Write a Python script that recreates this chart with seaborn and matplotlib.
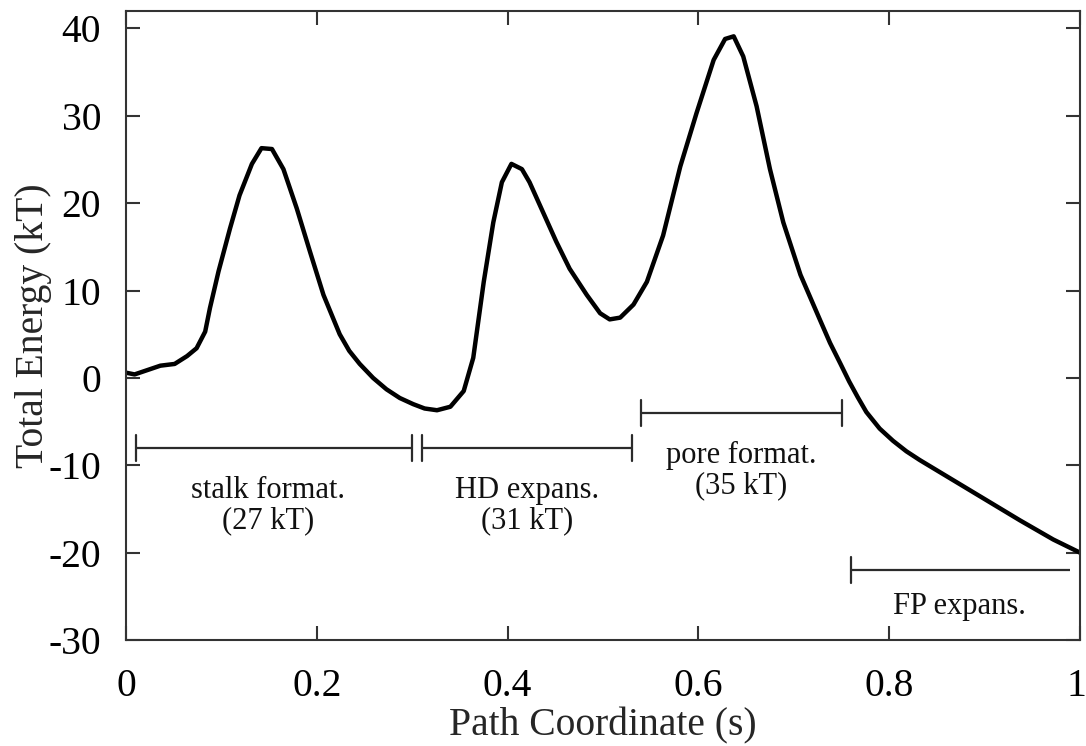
import matplotlib
matplotlib.use("Agg")
import matplotlib.pyplot as plt
import matplotlib.transforms as mtransforms
import seaborn as sns
import numpy as np
import pandas as pd

# ---- data ----
path_s = [0.0, 0.009, 0.036, 0.051, 0.064, 0.074, 0.083, 0.088, 0.097, 0.109,
          0.119, 0.132, 0.142, 0.153, 0.165, 0.179, 0.193, 0.207, 0.224, 0.234,
          0.245, 0.259, 0.273, 0.287, 0.301, 0.313, 0.326, 0.340, 0.354, 0.364,
          0.375, 0.385, 0.394, 0.404, 0.415, 0.423, 0.437, 0.451, 0.465, 0.483,
          0.497, 0.507, 0.518, 0.532, 0.546, 0.563, 0.581, 0.598, 0.616, 0.628,
          0.637, 0.647, 0.661, 0.675, 0.689, 0.707, 0.728, 0.738, 0.749, 0.758,
          0.767, 0.776, 0.790, 0.804, 0.818, 0.832, 0.867, 0.902, 0.937, 0.972,
          1.0]
energy_kT = [0.6, 0.4, 1.4, 1.6, 2.5, 3.4, 5.3, 8.0, 12.2, 17.1,
             20.9, 24.5, 26.3, 26.2, 23.9, 19.4, 14.4, 9.5, 5.0, 3.1,
             1.6, 0.0, -1.3, -2.3, -3.0, -3.5, -3.7, -3.3, -1.5, 2.3,
             11.0, 17.8, 22.4, 24.5, 23.9, 22.4, 19.0, 15.6, 12.5, 9.5,
             7.4, 6.7, 6.9, 8.4, 11.0, 16.3, 24.2, 30.3, 36.4, 38.8,
             39.1, 36.8, 31.1, 23.9, 17.8, 11.8, 6.5, 4.0, 1.6, -0.4,
             -2.2, -3.9, -5.8, -7.2, -8.4, -9.4, -11.7, -14.0, -16.3, -18.5,
             -20.0]

stage_labels = ["stalk format.\n(27 kT)", "HD expans.\n(31 kT)",
                "pore format.\n(35 kT)", "FP expans."]
stage_start = [0.01, 0.31, 0.54, 0.76]
stage_end = [0.30, 0.53, 0.75, 0.99]
stage_bar_y = [-8, -8, -4, -22]
stage_right_cap = [True, True, True, False]
label_x = [0.149, 0.42, 0.645, 0.874]
label_y = [-14.6, -14.6, -10.6, -26.2]

x_ticks = [0, 0.2, 0.4, 0.6, 0.8, 1]
x_tick_labels = ["0", "0.2", "0.4", "0.6", "0.8", "1"]
y_ticks = [-30, -20, -10, 0, 10, 20, 30, 40]
y_tick_labels = ["-30", "-20", "-10", "0", "10", "20", "30", "40"]

# ---- style ----
sns.set_theme(style="ticks")
plt.rcParams["font.family"] = ["Liberation Serif", "DejaVu Serif"]
plt.rcParams["axes.unicode_minus"] = False

fig = plt.figure(figsize=(10.86, 7.46), dpi=100)
ax = fig.add_axes([126 / 1086, 106 / 746, 954 / 1086, 629 / 746])

df = pd.DataFrame({"s": path_s, "E": energy_kT})
sns.lineplot(data=df, x="s", y="E", ax=ax, color="black", linewidth=3.2,
             estimator=None, sort=False)

bar_color = "#2b2b2b"
cap = 1.5
for xs, xe, yb, rc in zip(stage_start, stage_end, stage_bar_y, stage_right_cap):
    ax.plot([xs, xe], [yb, yb], color=bar_color, lw=1.6, solid_capstyle="butt")
    ax.plot([xs, xs], [yb - cap, yb + cap], color=bar_color, lw=1.6)
    if rc:
        ax.plot([xe, xe], [yb - cap, yb + cap], color=bar_color, lw=1.6)

for lab, lx, ly in zip(stage_labels, label_x, label_y):
    ax.text(lx, ly, lab, ha="center", va="center", fontsize=22,
            multialignment="center", linespacing=1.05, color="#111111")

ax.set_xlim(0, 1)
ax.set_ylim(-30, 42)
ax.set_xticks(x_ticks)
ax.set_xticklabels(x_tick_labels)
ax.set_yticks(y_ticks)
ax.set_yticklabels(y_tick_labels)

for sp in ax.spines.values():
    sp.set_visible(True)
    sp.set_linewidth(1.5)
    sp.set_color("#333333")

ax.tick_params(axis="both", which="major", direction="in", length=10,
               width=1.5, color="#333333", labelsize=28.5, labelcolor="black",
               top=True, right=True)
ax.tick_params(axis="x", pad=20)
ax.tick_params(axis="y", pad=18)

# nudge the last x tick label so it stays inside the figure
last = ax.get_xticklabels()[-1]
last.set_transform(last.get_transform() +
                   mtransforms.ScaledTranslation(-4 / 100, 0, fig.dpi_scale_trans))

ax.set_xlabel("Path Coordinate (s)", fontsize=28.5, labelpad=2)
ax.set_ylabel("Total Energy (kT)", fontsize=28.5, labelpad=-3)

fig.savefig("out.png", dpi=100)
